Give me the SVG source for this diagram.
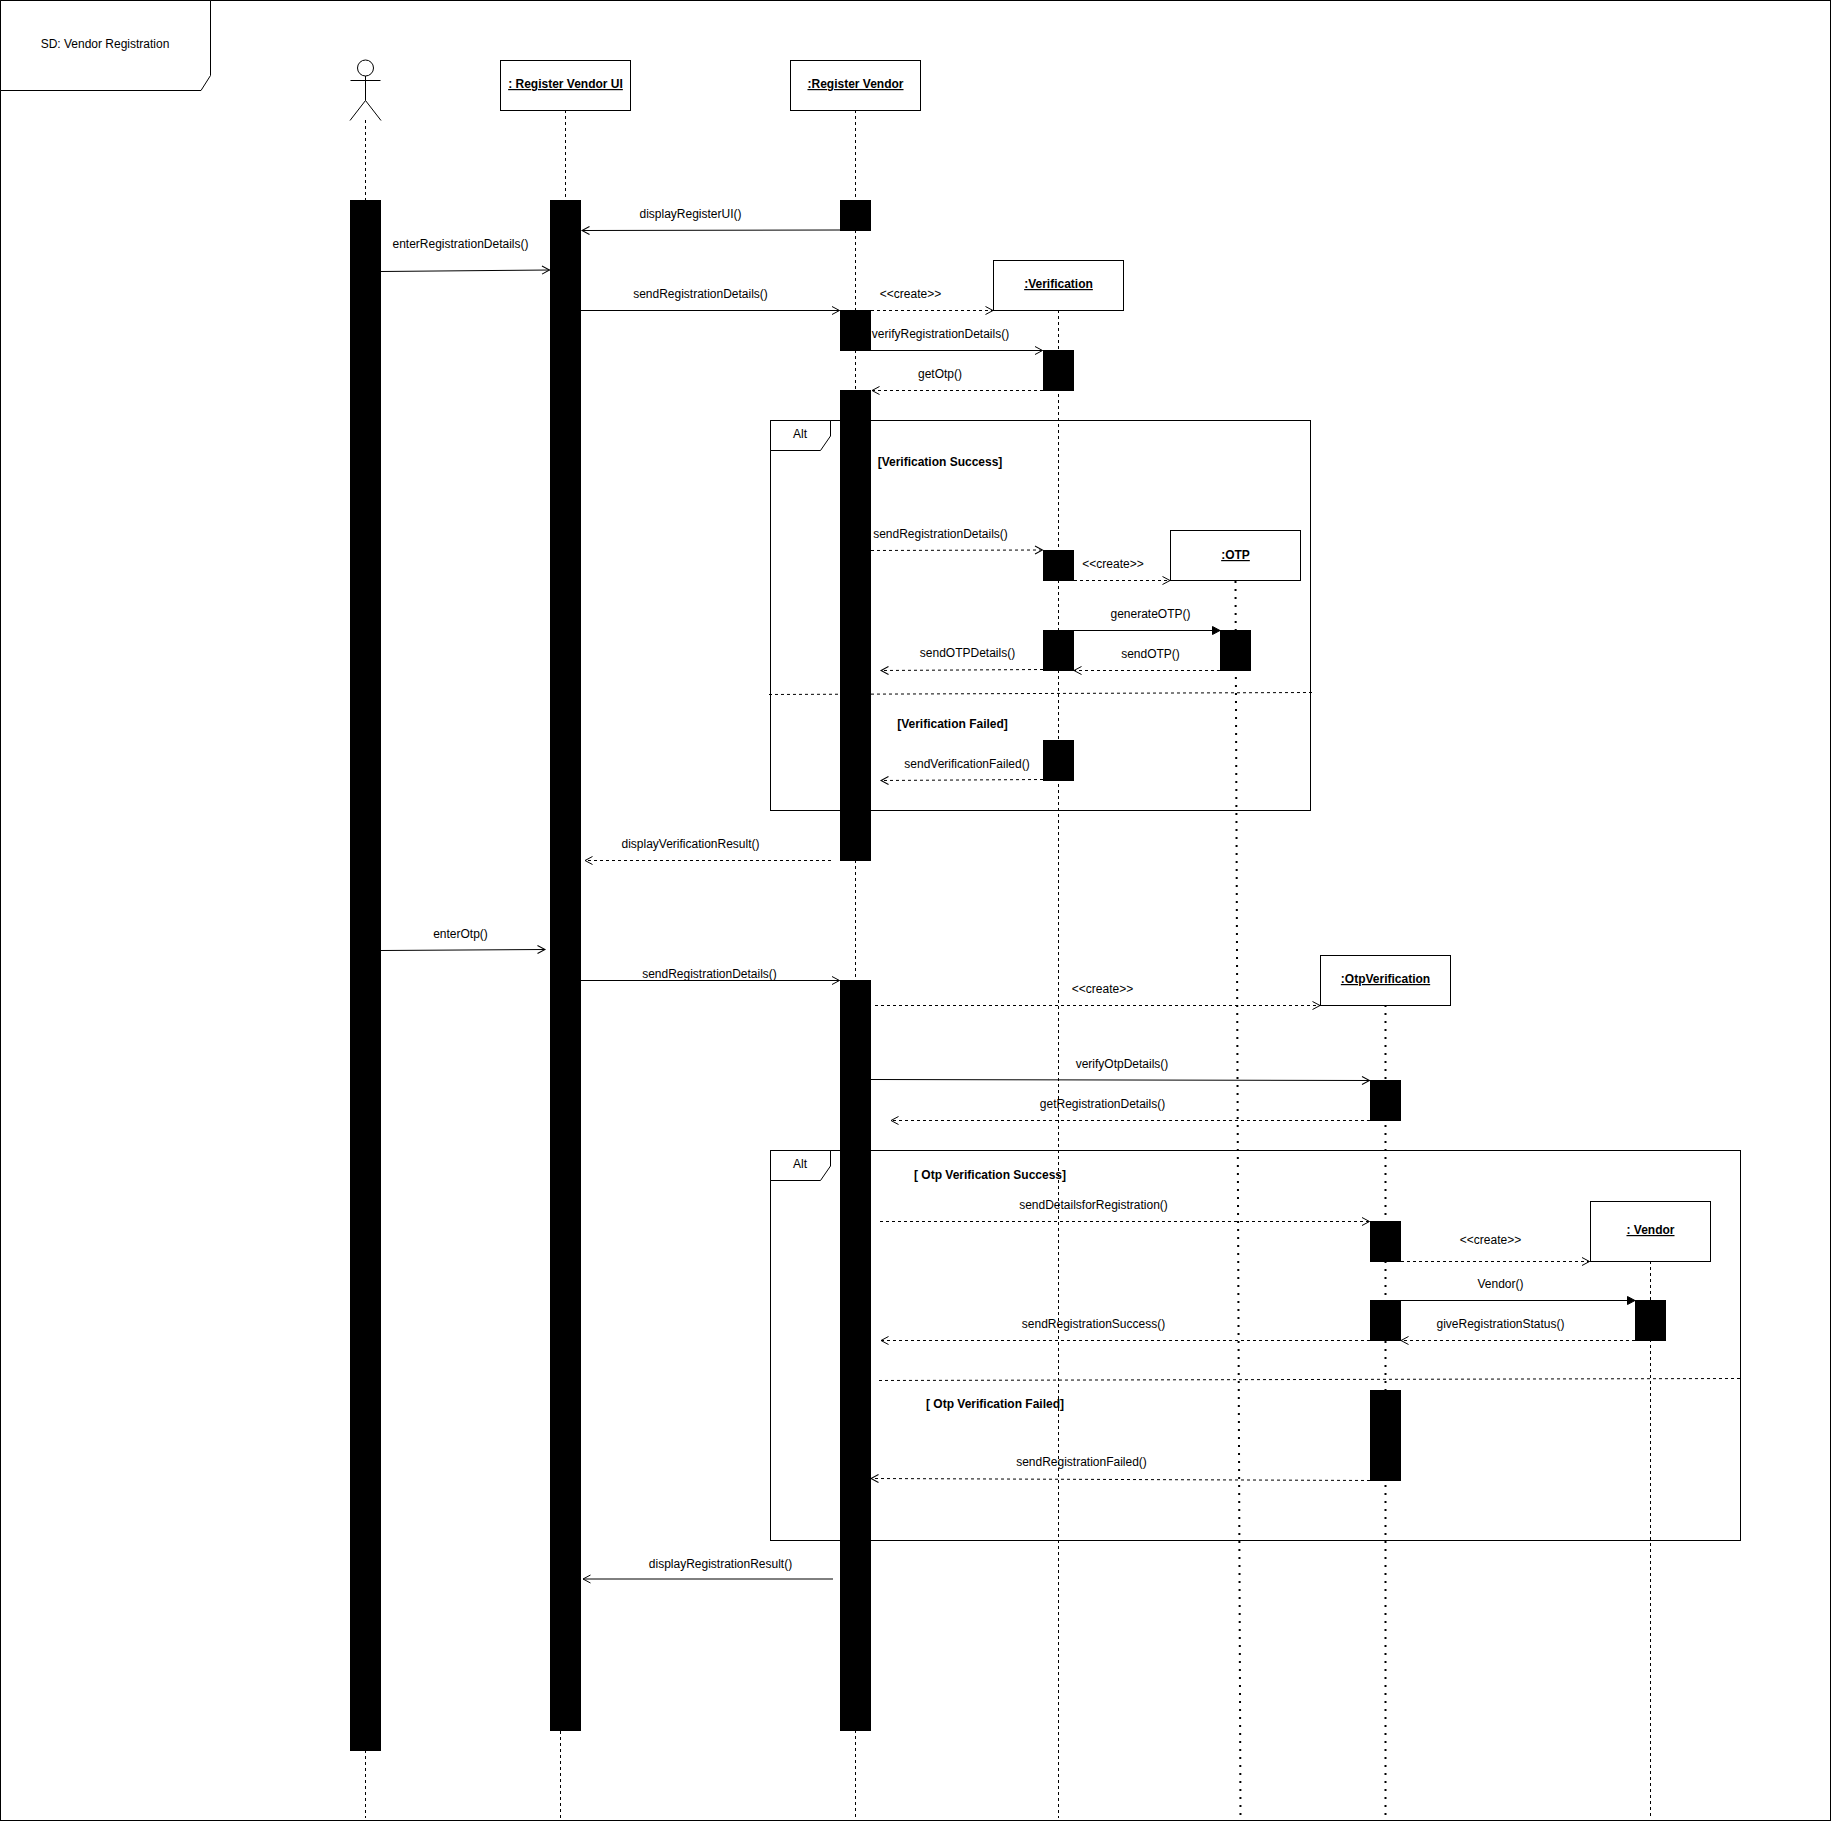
<svg xmlns="http://www.w3.org/2000/svg" width="1831" height="1824" viewBox="0 0 1831 1824">
<style>
text{font-family:"Liberation Sans",Arial,Helvetica,sans-serif;font-size:12px;fill:#000;text-anchor:middle}
.b{font-weight:bold}
.u{font-weight:bold;text-decoration:underline}
.box,.fr{fill:#fff;stroke:#000;stroke-width:1}
.fr0{fill:none;stroke:#000;stroke-width:1}
.bar{fill:#000;stroke:none}
.ll{fill:none;stroke:#000;stroke-width:1;stroke-dasharray:3 3}
.dot{fill:none;stroke:#000;stroke-width:2;stroke-dasharray:2 6}
.m{fill:none;stroke:#000;stroke-width:1;marker-end:url(#open)}
.d{fill:none;stroke:#000;stroke-width:1;stroke-dasharray:3 3;marker-end:url(#open)}
.s{fill:none;stroke:#000;stroke-width:1;marker-end:url(#block)}
.div{fill:none;stroke:#000;stroke-width:1;stroke-dasharray:3 3}
</style>
<defs>
<marker id="open" markerUnits="userSpaceOnUse" markerWidth="12" markerHeight="12" refX="9" refY="6" orient="auto"><path d="M1.5,2 L9,6 L1.5,10" fill="none" stroke="#000" stroke-width="1"/></marker>
<marker id="block" markerUnits="userSpaceOnUse" markerWidth="12" markerHeight="12" refX="9" refY="6" orient="auto"><path d="M1.5,2 L9,6 L1.5,10 Z" fill="#000" stroke="#000" stroke-width="1"/></marker>
</defs>
<rect width="1831" height="1824" fill="#fff"/>
<g id="frame">
<rect class="fr0" x="0.5" y="0.5" width="1830" height="1820"/>
<path class="fr" d="M0.5,0.5 H210.5 V75.5 L201,90.5 H0.5 Z"/>
<text x="105" y="48">SD: Vendor Registration</text>
</g>
<g id="alt1">
<rect class="fr0" x="770.5" y="420.5" width="540" height="390"/>
<path class="fr" d="M770.5,420.5 H830.5 V436 L820.5,450.5 H770.5 Z"/>
<text x="800" y="438">Alt</text>
<path class="div" d="M769,694.5 L1312,692.5"/>
<text class="b" x="940" y="466">[Verification Success]</text>
<text class="b" x="952.5" y="728">[Verification Failed]</text>
</g>
<g id="alt2">
<rect class="fr0" x="770.5" y="1150.5" width="970" height="390"/>
<path class="fr" d="M770.5,1150.5 H830.5 V1166 L820.5,1180.5 H770.5 Z"/>
<text x="800" y="1168">Alt</text>
<path class="div" d="M879,1380.5 L1740,1378.5"/>
<text class="b" x="990" y="1179">[ Otp Verification Success]</text>
<text class="b" x="995" y="1407.5">[ Otp Verification Failed]</text>
</g>
<g id="actor">
<circle cx="365.5" cy="68" r="8" fill="#fff" stroke="#000"/>
<path d="M365.5,76 V100.5 M350.5,80.5 H380.5 M350,120.5 L365.5,100.5 L381,120.5" fill="none" stroke="#000"/>
<path class="ll" d="M365.5,120 V200 M365.5,1750 V1818"/>
<rect class="bar" x="350" y="200" width="31" height="1551"/>
</g>
<g id="registerVendorUI">
<path class="ll" d="M565.5,110 V200 M560.5,1731 V1818"/>
<rect class="box" x="500.5" y="60.5" width="130" height="50"/>
<text class="u" x="565.5" y="88">: Register Vendor UI</text>
<rect class="bar" x="550" y="200" width="31" height="1531"/>
</g>
<g id="registerVendor">
<path class="ll" d="M855.5,110 V1818"/>
<rect class="box" x="790.5" y="60.5" width="130" height="50"/>
<text class="u" x="855.5" y="88">:Register Vendor</text>
<rect class="bar" x="840" y="200" width="31" height="31"/>
<rect class="bar" x="840" y="310" width="31" height="41"/>
<rect class="bar" x="840" y="390" width="31" height="471"/>
<rect class="bar" x="840" y="980" width="31" height="751"/>
</g>
<g id="verification">
<path class="ll" d="M1058.5,310 V1818"/>
<rect class="box" x="993.5" y="260.5" width="130" height="50"/>
<text class="u" x="1058.5" y="288">:Verification</text>
<rect class="bar" x="1043" y="350" width="31" height="41"/>
<rect class="bar" x="1043" y="550" width="31" height="31"/>
<rect class="bar" x="1043" y="630" width="31" height="41"/>
<rect class="bar" x="1043" y="740" width="31" height="41"/>
</g>
<g id="otp">
<path class="dot" d="M1235.5,581 L1240.5,1818"/>
<rect class="box" x="1170.5" y="530.5" width="130" height="50"/>
<text class="u" x="1235.5" y="559">:OTP</text>
<rect class="bar" x="1220" y="630" width="31" height="41"/>
</g>
<g id="otpVerification">
<path class="dot" d="M1385.5,1005 V1818"/>
<rect class="box" x="1320.5" y="955.5" width="130" height="50"/>
<text class="u" x="1385.5" y="983">:OtpVerification</text>
<rect class="bar" x="1370" y="1080" width="31" height="41"/>
<rect class="bar" x="1370" y="1221" width="31" height="41"/>
<rect class="bar" x="1370" y="1300" width="31" height="41"/>
<rect class="bar" x="1370" y="1390" width="31" height="91"/>
</g>
<g id="vendor">
<path class="ll" d="M1650.5,1261 V1818"/>
<rect class="box" x="1590.5" y="1201.5" width="120" height="60"/>
<text class="u" x="1650.5" y="1234">: Vendor</text>
<rect class="bar" x="1635" y="1300" width="31" height="41"/>
</g>
<g id="connectors">
<path class="m" d="M840,230 L582,230.5"/><text x="690.5" y="218">displayRegisterUI()</text>
<path class="m" d="M381,271.5 L549.5,270"/><text x="460.5" y="248">enterRegistrationDetails()</text>
<path class="m" d="M581,310.5 H839.5"/><text x="700.5" y="298">sendRegistrationDetails()</text>
<path class="d" d="M871,310.5 H993"/><text x="910.5" y="298">&lt;&lt;create&gt;&gt;</text>
<path class="m" d="M871,350.5 H1042.5"/><text x="940.5" y="338">verifyRegistrationDetails()</text>
<path class="d" d="M1043,390.5 H872"/><text x="940" y="378">getOtp()</text>
<path class="d" d="M871,550.5 L1042.5,550"/><text x="940.5" y="538">sendRegistrationDetails()</text>
<path class="d" d="M1074,580.5 H1170"/><text x="1113" y="568">&lt;&lt;create&gt;&gt;</text>
<path class="s" d="M1074,630.5 H1220"/><text x="1150.5" y="618">generateOTP()</text>
<path class="d" d="M1220,670.5 H1074"/><text x="1150.5" y="658">sendOTP()</text>
<path class="d" d="M1043,669.5 L881,670.5"/><text x="967.5" y="657">sendOTPDetails()</text>
<path class="d" d="M1043,779.5 L881,780.5"/><text x="967" y="768">sendVerificationFailed()</text>
<path class="d" d="M831,860.5 H585"/><text x="690.5" y="848">displayVerificationResult()</text>
<path class="m" d="M381,950.5 L545,949.5"/><text x="460.5" y="938">enterOtp()</text>
<path class="m" d="M581,980.5 H839.5"/><text x="709.5" y="978">sendRegistrationDetails()</text>
<path class="d" d="M875,1005.5 H1320"/><text x="1102.5" y="993">&lt;&lt;create&gt;&gt;</text>
<path class="m" d="M871,1079.5 L1369.5,1080.5"/><text x="1122" y="1068">verifyOtpDetails()</text>
<path class="d" d="M1370,1120.5 H891"/><text x="1102.5" y="1108">getRegistrationDetails()</text>
<path class="d" d="M880,1221.5 H1369.5"/><text x="1093.5" y="1209">sendDetailsforRegistration()</text>
<path class="d" d="M1401,1261.5 H1589.5"/><text x="1490.5" y="1244">&lt;&lt;create&gt;&gt;</text>
<path class="s" d="M1401,1300.5 H1635"/><text x="1500.5" y="1288">Vendor()</text>
<path class="d" d="M1635,1340.5 H1401"/><text x="1500.5" y="1328">giveRegistrationStatus()</text>
<path class="d" d="M1370,1340.5 H881"/><text x="1093.5" y="1328">sendRegistrationSuccess()</text>
<path class="d" d="M1370,1480.5 L871,1478.5"/><text x="1081.5" y="1466">sendRegistrationFailed()</text>
<path class="m" d="M833,1579 H583"/><text x="720.5" y="1568">displayRegistrationResult()</text>
</g>
</svg>
